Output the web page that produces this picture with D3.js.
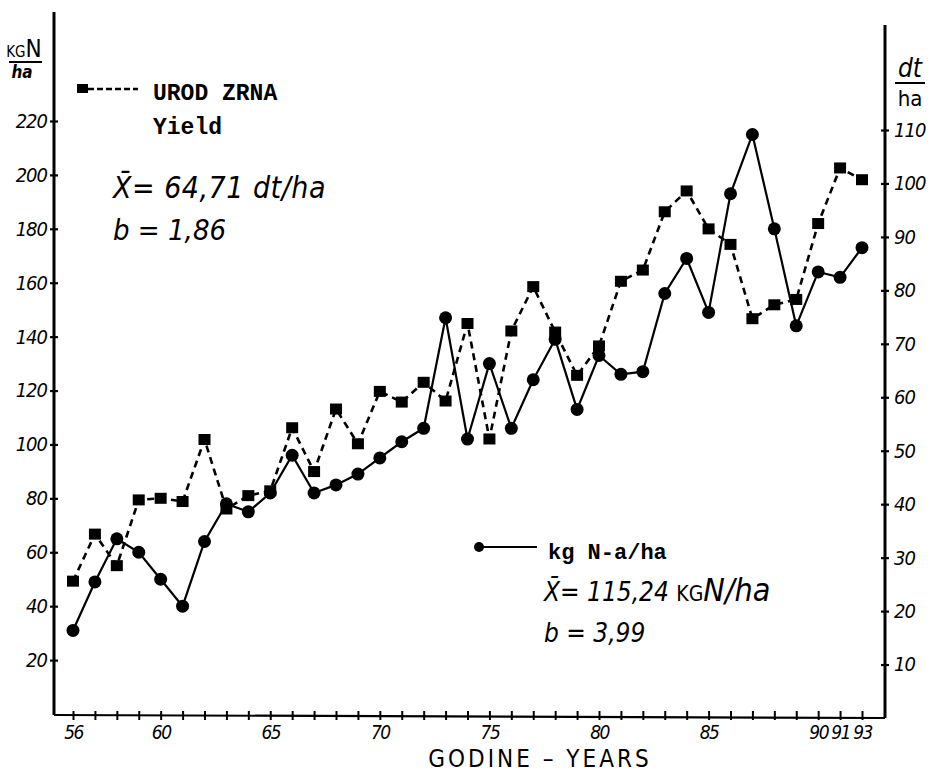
<!DOCTYPE html>
<html><head><meta charset="utf-8">
<script src="https://cdn.jsdelivr.net/npm/d3@7"></script>
<style>
body{margin:0;background:#fff;}
svg{display:block;}
</style></head>
<body>
<svg id="chart" width="932" height="774"></svg>
<script>
// ---- data ----
const years = ["56","57","58","59","60","61","62","63","64","65","66","67","68","69","70","71","72","73","74","75","76","77","78","79","80","81","82","83","84","85","86","87","88","89","90","91","93"];
const nitrogen = [31,49,65,60,50,40,64,78,75,82,96,82,85,89,95,101,106,147,102,130,106,124,139,113,133,126,127,156,169,149,193,215,180,144,164,162,173];
const yieldDt = [25.6,34.4,28.5,40.8,41.1,40.5,52.1,39.1,41.6,42.5,54.3,46.1,57.8,51.3,61.1,59.1,62.8,59.3,73.8,52.2,72.4,80.7,72.2,64.1,69.6,81.7,83.8,94.7,98.6,91.5,88.6,74.7,77.3,78.3,92.5,102.9,100.7];
const leftTicks = [20,40,60,80,100,120,140,160,180,200,220];
const rightTicks = [10,20,30,40,50,60,70,80,90,100,110];
const xLabels = ["56","60","65","70","75","80","85","90","91","93"];

const svg = d3.select("#chart");
const hand = "'DejaVu Sans Condensed','DejaVu Sans',sans-serif";
const type = "'Liberation Mono','DejaVu Sans Mono',monospace";

const x = d3.scalePoint().domain(years).range([73, 862]);
const yL = d3.scaleLinear().domain([0, 220]).range([714, 121]);
const yR = d3.scaleLinear().domain([0, 110]).range([718, 130]);

const axisX0 = 54, axisX1 = 885, baseY = 715;

// axes lines
svg.append("line").attr("x1", axisX0).attr("x2", axisX0).attr("y1", 12).attr("y2", baseY)
  .attr("stroke", "#000").attr("stroke-width", 3);
svg.append("line").attr("x1", axisX1).attr("x2", axisX1).attr("y1", 25).attr("y2", baseY + 3)
  .attr("stroke", "#000").attr("stroke-width", 3);
svg.append("line").attr("x1", axisX0).attr("x2", axisX1).attr("y1", baseY).attr("y2", baseY + 3)
  .attr("stroke", "#000").attr("stroke-width", 2.2);

// left axis
const gL = svg.append("g").attr("transform", `translate(${axisX0},0)`)
  .call(d3.axisLeft(yL).tickValues(leftTicks).tickSize(4).tickPadding(3));
gL.select(".domain").remove();
gL.selectAll(".tick line").attr("x1", -4).attr("x2", 4).attr("stroke-width", 2.2);
gL.selectAll(".tick text").attr("font-family", hand).attr("font-style", "italic")
  .attr("font-size", 20).attr("fill", "#000").attr("letter-spacing", -1);

// right axis
const gR = svg.append("g").attr("transform", `translate(${axisX1},0)`)
  .call(d3.axisRight(yR).tickValues(rightTicks).tickSize(4).tickPadding(5));
gR.select(".domain").remove();
gR.selectAll(".tick line").attr("x1", -4).attr("x2", 4).attr("stroke-width", 2.2);
gR.selectAll(".tick text").attr("font-family", hand).attr("font-style", "italic")
  .attr("font-size", 20).attr("fill", "#000").attr("letter-spacing", -1);

// bottom axis
const gX = svg.append("g").attr("transform", `translate(0,${baseY + 1})`)
  .call(d3.axisBottom(x).tickSize(4).tickPadding(6)
    .tickFormat(d => xLabels.includes(d) ? d : ""));
gX.select(".domain").remove();
gX.selectAll(".tick line").attr("y1", -5).attr("y2", 4).attr("stroke-width", 2);
gX.selectAll(".tick text").attr("font-family", hand).attr("font-style", "italic")
  .attr("font-size", 19).attr("fill", "#000").attr("letter-spacing", -1.5);

// axis titles
const lt = svg.append("text").attr("x", 24).attr("y", 57).attr("text-anchor", "middle")
  .attr("font-family", hand).attr("fill", "#000");
lt.append("tspan").attr("font-size", 15).text("KG");
lt.append("tspan").attr("font-size", 24).text("N");
svg.append("line").attr("x1", 9).attr("x2", 42).attr("y1", 62).attr("y2", 62).attr("stroke", "#000").attr("stroke-width", 2);
svg.append("text").attr("x", 22).attr("y", 78).attr("text-anchor", "middle")
  .attr("font-family", hand).attr("font-style", "italic").attr("font-weight", "bold").attr("font-size", 17).text("ha");

svg.append("text").attr("x", 910).attr("y", 77).attr("text-anchor", "middle")
  .attr("font-family", hand).attr("font-style", "italic").attr("font-size", 26).text("dt");
svg.append("line").attr("x1", 895).attr("x2", 925).attr("y1", 83).attr("y2", 83).attr("stroke", "#000").attr("stroke-width", 2);
svg.append("text").attr("x", 910).attr("y", 106).attr("text-anchor", "middle")
  .attr("font-family", hand).attr("font-size", 22).text("ha");

// lines
const lineN = d3.line().x((d, i) => x(years[i])).y(d => yL(d));
const lineY = d3.line().x((d, i) => x(years[i])).y(d => yR(d));

svg.append("path").datum(yieldDt).attr("d", lineY).attr("fill", "none")
  .attr("stroke", "#000").attr("stroke-width", 2.6).attr("stroke-dasharray", "7,5");
svg.append("path").datum(nitrogen).attr("d", lineN).attr("fill", "none")
  .attr("stroke", "#000").attr("stroke-width", 2.2);

svg.append("g").selectAll("rect").data(yieldDt).join("rect")
  .attr("x", (d, i) => x(years[i]) - 6).attr("y", d => yR(d) - 5.5)
  .attr("width", 12).attr("height", 11).attr("fill", "#000");
svg.append("g").selectAll("circle").data(nitrogen).join("circle")
  .attr("cx", (d, i) => x(years[i])).attr("cy", d => yL(d)).attr("r", 6.5).attr("fill", "#000");

// legend 1
svg.append("rect").attr("x", 77).attr("y", 84).attr("width", 11).attr("height", 9).attr("fill", "#000");
svg.append("line").attr("x1", 88).attr("x2", 138).attr("y1", 89).attr("y2", 89)
  .attr("stroke", "#000").attr("stroke-width", 2.6).attr("stroke-dasharray", "6,3");
svg.append("text").attr("x", 153).attr("y", 100).attr("font-family", type).attr("font-weight", "bold")
  .attr("font-size", 23).text("UROD ZRNA");
svg.append("text").attr("x", 153).attr("y", 134).attr("font-family", type).attr("font-weight", "bold")
  .attr("font-size", 23).text("Yield");
svg.append("text").attr("x", 113).attr("y", 198).attr("font-family", hand).attr("font-style", "italic")
  .attr("font-size", 30).attr("letter-spacing", 0.5).text("X\u0304= 64,71 dt/ha");
svg.append("text").attr("x", 113).attr("y", 240).attr("font-family", hand).attr("font-style", "italic")
  .attr("font-size", 29).text("b = 1,86");

// legend 2
svg.append("circle").attr("cx", 479).attr("cy", 547).attr("r", 5).attr("fill", "#000");
svg.append("line").attr("x1", 479).attr("x2", 537).attr("y1", 547).attr("y2", 547)
  .attr("stroke", "#000").attr("stroke-width", 2.2);
svg.append("text").attr("x", 548).attr("y", 559).attr("font-family", type).attr("font-weight", "bold")
  .attr("font-size", 22).text("kg N-a/ha");
const m2 = svg.append("text").attr("x", 544).attr("y", 601).attr("font-family", hand)
  .attr("font-style", "italic").attr("font-size", 26);
m2.append("tspan").text("X\u0304= 115,24 ");
m2.append("tspan").attr("font-style", "normal").attr("font-size", 21).text("KG");
m2.append("tspan").attr("font-size", 32).text("N/ha");
svg.append("text").attr("x", 544).attr("y", 642).attr("font-family", hand)
  .attr("font-style", "italic").attr("font-size", 26).text("b =  3,99");

// x title
svg.append("text").attr("x", 540).attr("y", 767).attr("text-anchor", "middle").attr("font-family", hand)
  .attr("font-size", 24).attr("letter-spacing", 3).text("GODINE \u2013 YEARS");
</script>
</body></html>
